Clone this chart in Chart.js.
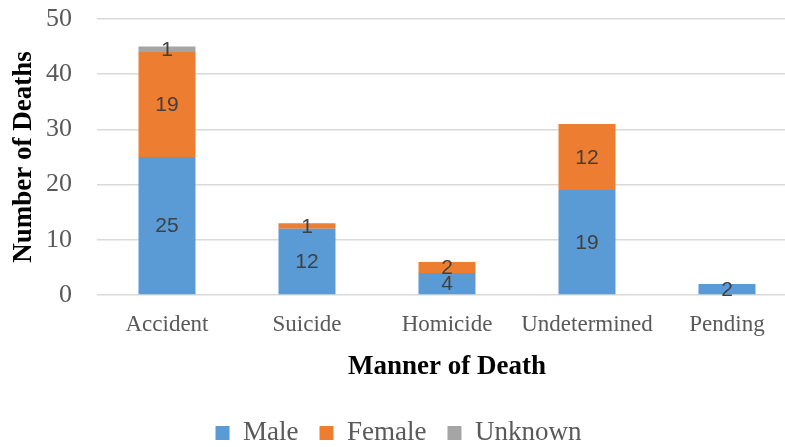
<!DOCTYPE html>
<html>
<head>
<meta charset="utf-8">
<script src="https://cdn.jsdelivr.net/npm/chart.js@4"></script>
<style>
html,body{margin:0;padding:0;overflow:hidden;background:#fff;}
#wrap{position:relative;width:800px;height:447px;}
</style>
</head>
<body>
<div id="wrap"><canvas id="c" width="800" height="447"></canvas></div>
<script>
const categories = ['Accident', 'Suicide', 'Homicide', 'Undetermined', 'Pending'];
const maleValues = [25, 12, 4, 19, 2];
const femaleValues = [19, 1, 2, 12, 0];
const unknownValues = [1, 0, 0, 0, 0];
const seriesNames = ['Male', 'Female', 'Unknown'];
const yTicks = [0, 10, 20, 30, 40, 50];
const xTitle = 'Manner of Death';
const yTitle = 'Number of Deaths';

const serif = "'Liberation Serif', 'Times New Roman', serif";

const dataLabels = {
  id: 'dataLabels',
  afterDatasetsDraw(chart) {
    const ctx = chart.ctx;
    ctx.save();
    ctx.font = "21px 'Liberation Sans', Arial, sans-serif";
    ctx.fillStyle = '#404040';
    ctx.textAlign = 'center';
    ctx.textBaseline = 'middle';
    chart.data.datasets.forEach((ds, di) => {
      const meta = chart.getDatasetMeta(di);
      meta.data.forEach((el, i) => {
        const v = ds.data[i];
        if (!v) return;
        ctx.fillText(String(v), el.x, (el.y + el.base) / 2 + 1);
      });
    });
    ctx.restore();
  }
};

new Chart(document.getElementById('c'), {
  type: 'bar',
  data: {
    labels: categories,
    datasets: [
      { label: seriesNames[0], data: maleValues, backgroundColor: '#5B9BD5' },
      { label: seriesNames[1], data: femaleValues, backgroundColor: '#ED7D31' },
      { label: seriesNames[2], data: unknownValues, backgroundColor: '#A5A5A5' }
    ]
  },
  options: {
    responsive: false,
    animation: false,
    devicePixelRatio: 1,
    layout: { padding: { top: 19, right: 3, left: 0, bottom: 0 } },
    datasets: { bar: { categoryPercentage: 1, barPercentage: 0.407, borderWidth: 0 } },
    plugins: {
      tooltip: { enabled: false },
      legend: {
        position: 'bottom',
        maxHeight: 48.5,
        labels: {
          boxWidth: 14,
          boxHeight: 14,
          padding: 21,
          color: '#595959',
          font: { family: serif, size: 27 }
        }
      }
    },
    scales: {
      x: {
        stacked: true,
        grid: { display: false, drawTicks: false },
        border: { display: false },
        ticks: { color: '#595959', font: { family: serif, size: 23 }, padding: 16, maxRotation: 0 },
        title: { display: true, text: xTitle, color: '#000', font: { family: serif, size: 27, weight: 'bold' }, padding: { top: 0, bottom: 15 } },
        afterFit(scale) { scale.height = 103.5; }
      },
      y: {
        stacked: true,
        min: 0,
        max: 50,
        afterBuildTicks(scale) { scale.ticks = yTicks.map(v => ({ value: v })); },
        grid: { color: '#D9D9D9', lineWidth: 1.5, drawTicks: true, tickLength: 22, tickColor: 'rgba(0,0,0,0)' },
        border: { display: false },
        ticks: { color: '#595959', font: { family: serif, size: 26 }, padding: 3 },
        title: { display: true, text: yTitle, color: '#000', font: { family: serif, size: 27, weight: 'bold' }, padding: { top: 8, bottom: 0 } },
        afterFit(scale) { scale.width = 97; }
      }
    }
  },
  plugins: [dataLabels]
});
</script>
</body>
</html>
